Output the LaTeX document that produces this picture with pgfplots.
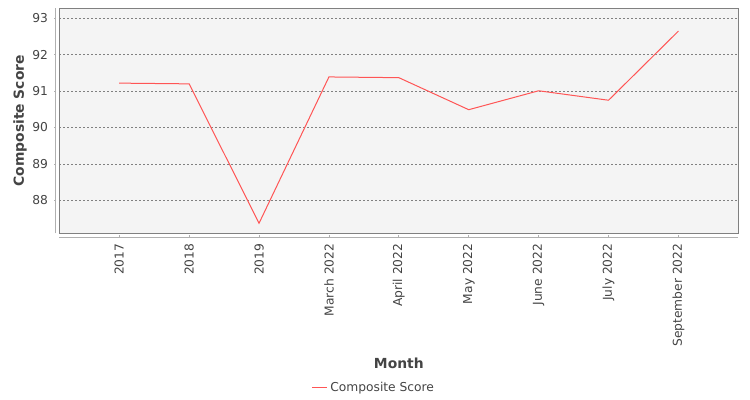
\documentclass[border=0pt]{standalone}
\usepackage{pgfplots}
\pgfplotsset{compat=1.18}
\usepackage{fontspec}
\setmainfont{DejaVu Sans}
\definecolor{bgc}{HTML}{F4F4F4}
\definecolor{framec}{HTML}{808080}
\definecolor{axc}{HTML}{B0B0B0}
\definecolor{txt}{HTML}{444444}
\definecolor{linec}{HTML}{FF5555}
\definecolor{gridc}{HTML}{808080}
\begin{document}
\begin{tikzpicture}
\path[use as bounding box] (0,0) rectangle (562.5pt,300pt);
\begin{axis}[
  at={(44.5pt,125pt)}, anchor=south west,
  scale only axis, width=509.25pt, height=168.75pt,
  xmin=-0.857, xmax=8.857, ymin=87.093, ymax=93.275,
  xtick={0,...,8},
  xticklabels={2017,2018,2019,March 2022,April 2022,May 2022,June 2022,July 2022,September 2022},
  ytick={88,89,90,91,92,93},
  major tick length=0pt,
  axis background/.style={fill=bgc},
  axis line style={draw=framec, line width=0.8pt},
  ymajorgrids,
  grid style={draw=gridc, line width=0.45pt, dash pattern=on 1.5pt off 1.5pt},
  tick label style={font=\fontsize{9.2}{11}\selectfont, text=txt},
  /pgf/number format/assume math mode=true,
  xticklabel style={rotate=90, anchor=east, inner xsep=7.5pt, inner ysep=0pt},
  yticklabel style={anchor=east, inner xsep=8.3pt, inner ysep=0pt},
  xlabel={Month}, ylabel={Composite Score},
  label style={font=\bfseries\fontsize{10.4}{12}\selectfont, text=txt},
  xlabel style={at={(rel axis cs:0.5,-0.5764)}, anchor=center},
  ylabel style={at={(rel axis cs:-0.0579,0.5)}, anchor=center},
  legend style={at={(rel axis cs:0.4639,-0.686)}, anchor=center, draw=none, fill=none,
    font=\fontsize{9.2}{11}\selectfont, text=txt, inner sep=0pt},
  legend image code/.code={\draw[#1, draw=linec, line width=0.75pt] (0pt,0pt) -- (11pt,0pt);},
  legend cell align=left,
  clip=false,
]
\addplot[linec, line width=0.75pt, mark=none] coordinates {
  (0,91.22) (1,91.20) (2,87.37) (3,91.39) (4,91.37) (5,90.49) (6,91.01) (7,90.75) (8,92.65)
};
\addlegendentry{Composite Score}
\draw[axc, line width=0.75pt] ([xshift=-2.7pt]rel axis cs:0,0) -- ([xshift=-2.7pt]rel axis cs:0,1);
\draw[axc, line width=0.75pt] ([yshift=-3pt]rel axis cs:0,0) -- ([yshift=-3pt]rel axis cs:1,0);
\pgfplotsinvokeforeach{0,...,8}{
  \draw[axc, line width=0.6pt] ([yshift=-3pt]axis cs:#1,87.093) -- ([yshift=-1.5pt]axis cs:#1,87.093);
}
\pgfplotsinvokeforeach{88,...,93}{
  \draw[axc, line width=0.6pt] ([xshift=-2.7pt]axis cs:-0.857,#1) -- ([xshift=-4.2pt]axis cs:-0.857,#1);
}
\end{axis}
\end{tikzpicture}
\end{document}
